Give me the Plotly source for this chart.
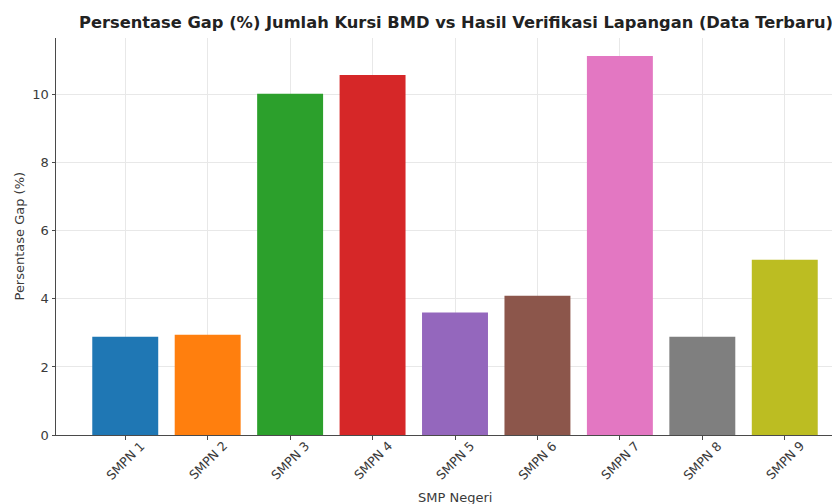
import plotly.graph_objects as go

schools = ["SMPN 1", "SMPN 2", "SMPN 3", "SMPN 4", "SMPN 5", "SMPN 6", "SMPN 7", "SMPN 8", "SMPN 9"]
gap_pct = [2.89, 2.95, 10.03, 10.58, 3.60, 4.09, 11.14, 2.89, 5.15]
bar_colors = ["#1f77b4", "#ff7f0e", "#2ca02c", "#d62728", "#9467bd",
              "#8c564b", "#e377c2", "#7f7f7f", "#bcbd22"]
y_ticks = [0, 2, 4, 6, 8, 10]

W, H = 832, 496  # page body has an 8px offset
font = "DejaVu Sans"
txt = "#3a3a3a"

xs = list(range(len(schools)))
fig = go.Figure(go.Bar(
    x=xs, y=gap_pct,
    marker=dict(color=bar_colors, line=dict(width=0)),
    width=0.8,
))

annotations = []
for i, name in enumerate(schools):
    annotations.append(dict(
        x=i, xref="x", y=0, yref="paper", yshift=-25,
        text=name, showarrow=False, textangle=-45,
        xanchor="center", yanchor="middle",
        font=dict(family=font, size=12.5, color=txt),
    ))
annotations.append(dict(
    x=4, xref="x", y=0, yref="paper", yshift=-62,
    text="SMP Negeri", showarrow=False,
    xanchor="center", yanchor="middle",
    font=dict(family=font, size=13, color=txt),
))
annotations.append(dict(
    x=0, xref="paper", xshift=-37, y=0.5, yref="paper",
    text="Persentase Gap (%)", showarrow=False, textangle=-90,
    xanchor="center", yanchor="middle",
    font=dict(family=font, size=13, color=txt),
))

fig.update_layout(
    width=W, height=H,
    paper_bgcolor="white", plot_bgcolor="white",
    margin=dict(l=48, r=0, t=30, b=69, autoexpand=False),
    showlegend=False,
    font=dict(family=font, color=txt, size=13),
    title=dict(
        text="<b>Persentase Gap (%) Jumlah Kursi BMD vs Hasil Verifikasi Lapangan (Data Terbaru)</b>",
        x=448 / W, xref="container", xanchor="center",
        y=1 - 14 / H, yref="container", yanchor="middle",
        font=dict(family=font, size=16.3, color="#222222"),
    ),
    xaxis=dict(
        range=[-0.84, 8.67],
        tickmode="array", tickvals=xs, showticklabels=False,
        showgrid=True, gridcolor="#e8e8e8", gridwidth=1,
        showline=True, linecolor="#4a4a4a", linewidth=1,
        ticks="outside", ticklen=3.5, tickcolor="#4a4a4a",
        zeroline=False, automargin=False,
    ),
    yaxis=dict(
        range=[0, 11.67],
        tickmode="array", tickvals=y_ticks,
        showgrid=True, gridcolor="#e8e8e8", gridwidth=1,
        showline=True, linecolor="#4a4a4a", linewidth=1,
        ticks="outside", ticklen=3.5, tickcolor="#4a4a4a",
        tickfont=dict(family=font, size=13, color=txt),
        zeroline=False, automargin=False,
    ),
    annotations=annotations,
)

fig.write_html("out.html")
